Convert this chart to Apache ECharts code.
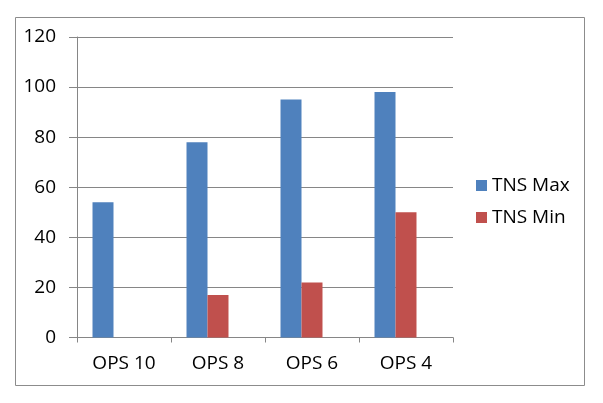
<!DOCTYPE html>
<html>
<head>
<meta charset="utf-8">
<script src="https://cdn.jsdelivr.net/npm/echarts@6/dist/echarts.min.js"></script>
<style>
html,body{margin:0;padding:0;background:#fff;}
#c{width:603px;height:403px;}
</style>
</head>
<body>
<div id="c"></div>
<script>
var categories = ['OPS 10', 'OPS 8', 'OPS 6', 'OPS 4'];
var tnsMax = [54, 78, 95, 98];
var tnsMin = [0, 17, 22, 50];
// third (empty) series slot present in the original chart layout
var emptySeries = [null, null, null, null];
var yTicks = [0, 20, 40, 60, 80, 100, 120];

var chart = echarts.init(document.getElementById('c'));
var font = 'Open Sans, Liberation Sans, sans-serif';
chart.setOption({
  animation: false,
  backgroundColor: '#fff',
  graphic: [{
    type: 'rect',
    shape: {x: 15.5, y: 17.5, width: 569, height: 368},
    style: {fill: 'none', stroke: '#8c8c8c', lineWidth: 1},
    silent: true
  }],
  grid: {left: 77, right: 150, top: 37, bottom: 65.5},
  legend: {
    orient: 'vertical',
    left: 471,
    top: 171,
    itemWidth: 11,
    itemHeight: 11,
    itemGap: 13,
    icon: 'rect',
    textStyle: {fontFamily: font, fontSize: 19, color: '#000'},
    data: ['TNS Max', 'TNS Min']
  },
  xAxis: {
    type: 'category',
    data: categories,
    axisLine: {lineStyle: {color: '#868686'}},
    axisTick: {show: true, length: 5, lineStyle: {color: '#868686'}},
    axisLabel: {fontFamily: font, fontSize: 19, color: '#000', margin: 17}
  },
  yAxis: {
    type: 'value',
    min: yTicks[0],
    max: yTicks[yTicks.length - 1],
    interval: 20,
    axisLine: {show: true, lineStyle: {color: '#868686'}},
    axisTick: {show: true, length: 8, lineStyle: {color: '#868686'}},
    splitLine: {lineStyle: {color: '#868686'}},
    axisLabel: {fontFamily: font, fontSize: 19, color: '#000', margin: 21}
  },
  series: [
    {name: 'TNS Max', type: 'bar', data: tnsMax, barGap: '0%', barCategoryGap: '33%',
     itemStyle: {color: '#4F81BD'}},
    {name: 'TNS Min', type: 'bar', data: tnsMin,
     itemStyle: {color: '#C0504D'}},
    {name: 'empty', type: 'bar', data: emptySeries,
     itemStyle: {color: '#9BBB59'}}
  ]
});
</script>
</body>
</html>
